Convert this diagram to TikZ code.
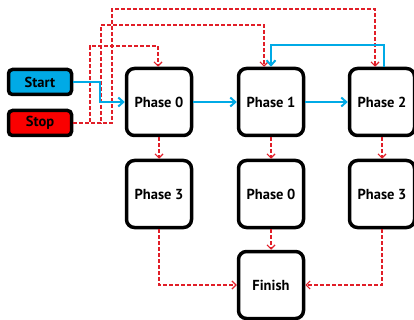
\documentclass[tikz,border=0pt]{standalone}
\usepackage{fontspec}
\setmainfont{PT Sans}
\usetikzlibrary{positioning,arrows.meta}

\definecolor{startblue}{RGB}{0,170,230}
\definecolor{stopred}{RGB}{250,0,0}
\definecolor{linkred}{RGB}{225,30,40}

\tikzset{
  phase/.style={draw, line width=3.5pt, rounded corners=8pt, fill=white,
    minimum width=65pt, minimum height=67pt, font=\bfseries\fontsize{14.5}{16}\selectfont},
  button/.style={draw, line width=3.5pt, rounded corners=4pt,
    minimum width=63pt, minimum height=25pt, font=\bfseries\fontsize{14.5}{16}\selectfont},
  goline/.style={startblue, line width=2pt, -{Straight Barb[length=5pt,width=9pt]}},
  stopline/.style={linkred, line width=1.2pt, dash pattern=on 4pt off 2pt,
    -{Straight Barb[length=4pt,width=8pt]}}
}

\begin{document}
\begin{tikzpicture}[x=1pt, y=-1pt]
  \useasboundingbox (0,0) rectangle (414,320);
  % Buttons
  \node[button, fill=startblue] (start) at (40,82) {Start};
  \node[button, fill=stopred] (stop) at (40,123) {Stop};
  % Phases
  \node[phase] (p0) at (159,102) {Phase 0};
  \node[phase] (p1) at (271,102) {Phase 1};
  \node[phase] (p2) at (382,102) {Phase 2};
  \node[phase] (q0) at (159,194) {Phase 3};
  \node[phase] (q1) at (271,194) {Phase 0};
  \node[phase] (q2) at (382,194) {Phase 3};
  \node[phase] (finish) at (271,285) {Finish};
  % Stop links
  \coordinate (s0) at (90,46);
  \coordinate (s1) at (101,25);
  \coordinate (s2) at (112,9);
  \draw[stopline] (stop.east) -| (s0) -| ([xshift=-1pt]p0.north);
  \draw[stopline] (stop.east) -| (s1) -| ([xshift=-7pt]p1.north);
  \draw[stopline] (stop.east) -| (s2) -| ([xshift=-7pt]p2.north);
  % Start links
  \draw[goline] (start.east) -- ++(27,0) |- (p0.west);
  \draw[goline] (p0) -- (p1);
  \draw[goline] (p1) -- (p2);
  \draw[goline] ([xshift=2pt]p2.north) -- ++(0,-22) -| (p1.north);
  % Down links
  \draw[stopline] (p0) -- (q0);
  \draw[stopline] (p1) -- (q1);
  \draw[stopline] (p2) -- (q2);
  \draw[stopline] (q0.south) |- (finish.west);
  \draw[stopline] (q1) -- (finish);
  \draw[stopline] (q2.south) |- (finish.east);
\end{tikzpicture}
\end{document}
